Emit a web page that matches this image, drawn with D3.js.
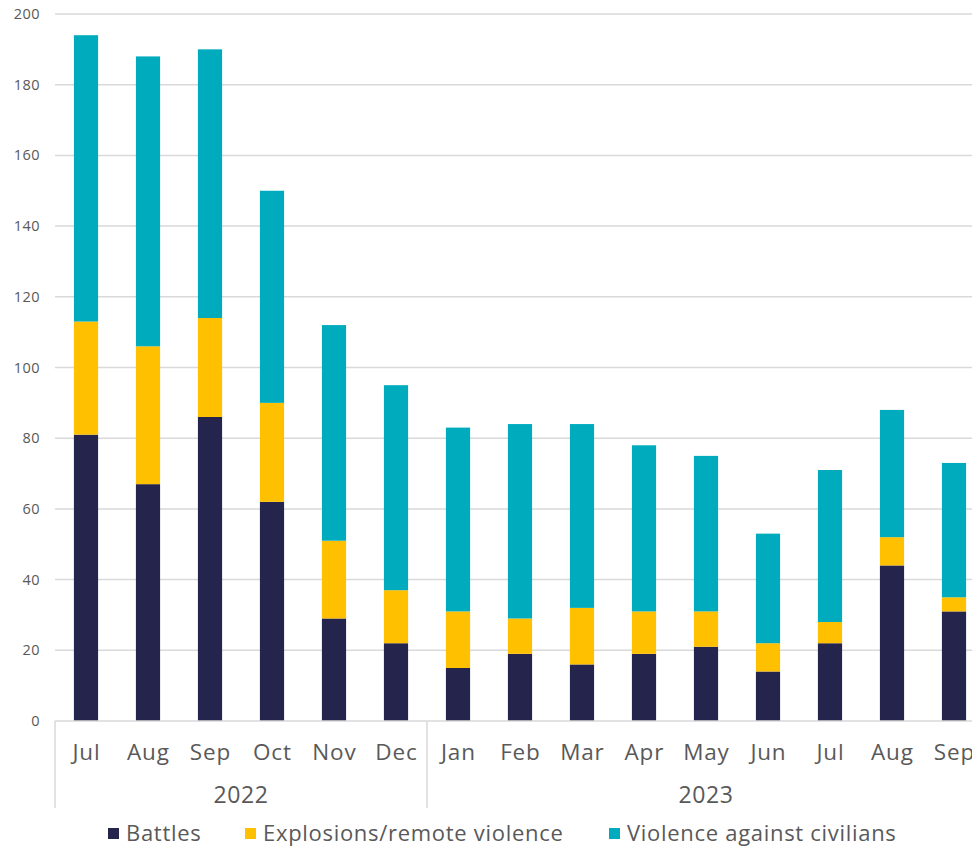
<!DOCTYPE html>
<html>
<head>
<meta charset="utf-8">
<script src="https://cdn.jsdelivr.net/npm/d3@7"></script>
<style>
  body { margin: 0; background: #fff; }
  svg { display: block; font-family: "Open Sans", Lato, sans-serif; }
</style>
</head>
<body>
<svg id="chart" width="972" height="847"></svg>
<script>
// months and years on the two-level axis
const months = ['Jul','Aug','Sep','Oct','Nov','Dec','Jan','Feb','Mar','Apr','May','Jun','Jul','Aug','Sep'];
const years = [
  {label: '2022', from: 0, to: 6},
  {label: '2023', from: 6, to: 15}
];
const yTicks = [0, 20, 40, 60, 80, 100, 120, 140, 160, 180, 200];

// series values
const battles    = [81, 67, 86, 62, 29, 22, 15, 19, 16, 19, 21, 14, 22, 44, 31];
const explosions = [32, 39, 28, 28, 22, 15, 16, 10, 16, 12, 10,  8,  6,  8,  4];
const violence   = [81, 82, 76, 60, 61, 58, 52, 55, 52, 47, 44, 31, 43, 36, 38];

const seriesNames = ['Battles', 'Explosions/remote violence', 'Violence against civilians'];
const colors = ['#24244c', '#ffc000', '#00abbd'];

const svg = d3.select('#chart');
const mLeft = 55, mTop = 14, mBottom = 721;
const idx = months.map((m, i) => i);

const x = d3.scaleBand().domain(idx).range([mLeft, mLeft + 62 * 15])
  .paddingInner(0.61).paddingOuter(0.305);
const y = d3.scaleLinear().domain([0, 200]).range([mBottom, mTop]);

// grid
svg.append('g').selectAll('line').data(yTicks.filter(d => d > 0)).join('line')
  .attr('x1', mLeft).attr('x2', 972)
  .attr('y1', d => y(d)).attr('y2', d => y(d))
  .attr('stroke', '#d9d9d9').attr('stroke-width', 1.5);

// y labels
svg.append('g').selectAll('text').data(yTicks).join('text')
  .attr('x', 40).attr('y', d => y(d)).attr('dy', '0.35em')
  .attr('text-anchor', 'end')
  .attr('font-size', 14.5).attr('letter-spacing', 0.5).attr('fill', '#595959')
  .text(d => d);

// stacks
const rows = idx.map(i => ({i, b: battles[i], e: explosions[i], v: violence[i]}));
const stacked = d3.stack().keys(['b', 'e', 'v'])(rows);

svg.append('g').selectAll('g').data(stacked).join('g')
  .attr('fill', (d, k) => colors[k])
  .selectAll('rect').data(d => d).join('rect')
    .attr('x', d => x(d.data.i))
    .attr('width', x.bandwidth())
    .attr('y', d => y(d[1]))
    .attr('height', d => y(d[0]) - y(d[1]));

// category axis
const ax = svg.append('g');
ax.append('line').attr('x1', mLeft).attr('x2', 972).attr('y1', mBottom).attr('y2', mBottom)
  .attr('stroke', '#d9d9d9').attr('stroke-width', 1.5);
const seps = [0, 6];
ax.selectAll('line.sep').data(seps).join('line').attr('class', 'sep')
  .attr('x1', d => x(d) - x.step() * x.paddingOuter())
  .attr('x2', d => x(d) - x.step() * x.paddingOuter())
  .attr('y1', mBottom).attr('y2', 808)
  .attr('stroke', '#d9d9d9').attr('stroke-width', 1.5);

ax.selectAll('text.m').data(idx).join('text').attr('class', 'm')
  .attr('x', i => x(i) + x.bandwidth() / 2 + 0.4).attr('y', 760)
  .attr('text-anchor', 'middle').attr('font-size', 22.5).attr('letter-spacing', 0.8)
  .attr('fill', '#595959')
  .text(i => months[i]);

ax.selectAll('text.yr').data(years).join('text').attr('class', 'yr')
  .attr('x', d => (x(d.from) + x(d.to - 1) + x.bandwidth()) / 2)
  .attr('y', 803)
  .attr('text-anchor', 'middle').attr('font-size', 23).attr('letter-spacing', 0.6)
  .attr('fill', '#595959')
  .text(d => d.label);

// legend
const legX = [108, 245, 609];
const leg = svg.append('g').selectAll('g').data(seriesNames).join('g')
  .attr('transform', (d, k) => `translate(${legX[k]},828)`);
leg.append('rect').attr('width', 11).attr('height', 11).attr('fill', (d, k) => colors[k]);
leg.append('text').attr('x', 18).attr('y', 5.5).attr('dy', '0.36em')
  .attr('font-size', 22).attr('letter-spacing', 0.7)
  .attr('fill', '#595959').text(d => d);
</script>
</body>
</html>
